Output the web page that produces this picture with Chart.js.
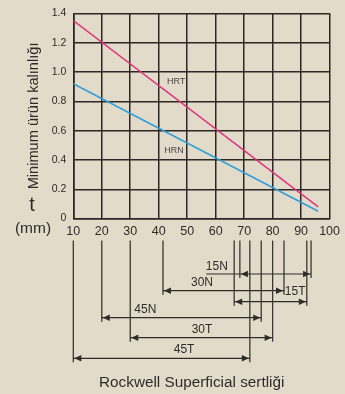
<!DOCTYPE html>
<html>
<head>
<meta charset="utf-8">
<script src="https://cdn.jsdelivr.net/npm/chart.js@4.4.1/dist/chart.umd.min.js"></script>
<style>
  html, body { margin: 0; padding: 0; background: #e3dbca; }
  canvas { display: block; }
</style>
</head>
<body>
<canvas id="chart" width="345" height="394"></canvas>
<script>
// Minimum sample thickness versus Rockwell superficial hardness
const hardness = [10, 96];
const hrtThickness = [1.35, 0.08];
const hrnThickness = [0.92, 0.05];

const xTicks = [10, 20, 30, 40, 50, 60, 70, 80, 90, 100];
const yTicks = [0, 0.2, 0.4, 0.6, 0.8, 1.0, 1.2, 1.4];

// Usable hardness span of each superficial scale
const scaleNames = ['15N', '30N', '15T', '45N', '30T', '45T'];
const rangeFrom = [68.5, 41.5, 66.5, 20, 30, 10];
const rangeTo = [93.5, 84, 92, 76, 80, 72];

const SANS = "'Liberation Sans', Arial, sans-serif";
const INK = '#2e2c2a';
const GRID = '#2b2724';

const toPoints = (xs, ys) => xs.map((x, i) => ({ x, y: ys[i] }));

// Range bars drawn under the x axis, plus the axis captions and curve names
const annotations = {
  id: 'annotations',
  afterDraw(chart, args, opts) {
    const { ctx, chartArea } = chart;
    const x = chart.scales.x, y = chart.scales.y;
    const top = chartArea.bottom + 22;
    ctx.save();

    scaleNames.forEach((name, i) => {
      const row = opts.rows[i];
      const x1 = x.getPixelForValue(rangeFrom[i]);
      const x2 = x.getPixelForValue(rangeTo[i]);

      ctx.strokeStyle = '#3a3632';
      ctx.lineWidth = 1.3;
      [x1, x2].forEach(px => {
        ctx.beginPath();
        ctx.moveTo(px, top);
        ctx.lineTo(px, row.y + 4);
        ctx.stroke();
      });

      ctx.strokeStyle = INK;
      ctx.fillStyle = INK;
      ctx.lineWidth = 1.2;
      const startX = row.lead ? x.getPixelForValue(row.lead) : x1;
      ctx.beginPath();
      ctx.moveTo(startX, row.y);
      ctx.lineTo(x2, row.y);
      ctx.stroke();

      const head = 7, half = 3.2;
      ctx.beginPath();
      ctx.moveTo(x1 + 1, row.y);
      ctx.lineTo(x1 + 1 + head, row.y - half);
      ctx.lineTo(x1 + 1 + head, row.y + half);
      ctx.closePath();
      ctx.fill();
      ctx.beginPath();
      ctx.moveTo(x2 - 1, row.y);
      ctx.lineTo(x2 - 1 - head, row.y - half);
      ctx.lineTo(x2 - 1 - head, row.y + half);
      ctx.closePath();
      ctx.fill();

      ctx.font = '12px ' + SANS;
      ctx.textAlign = 'center';
      ctx.textBaseline = 'middle';
      ctx.fillText(name, x.getPixelForValue(row.label), row.labelY);
    });

    // curve names
    ctx.font = '9px ' + SANS;
    ctx.textAlign = 'center';
    ctx.textBaseline = 'middle';
    ctx.fillStyle = '#464442';
    opts.curveNames.forEach(c => {
      ctx.fillText(c.text, x.getPixelForValue(c.x), y.getPixelForValue(c.y));
    });

    // unit of the thickness axis
    ctx.fillStyle = INK;
    ctx.font = '20px ' + SANS;
    ctx.fillText('t', 32, 205);
    ctx.font = '15.5px ' + SANS;
    ctx.fillText('(mm)', 33, 229);

    // hardness axis caption
    ctx.font = '15.3px ' + SANS;
    ctx.fillText('Rockwell Superficial sertliği', 191.7, 383);

    ctx.restore();
  }
};

new Chart(document.getElementById('chart'), {
  type: 'line',
  data: {
    datasets: [
      {
        label: 'HRT',
        data: toPoints(hardness, hrtThickness),
        borderColor: '#e0337f',
        borderWidth: 1.5,
        pointRadius: 0,
        tension: 0
      },
      {
        label: 'HRN',
        data: toPoints(hardness, hrnThickness),
        borderColor: '#2f9fdb',
        borderWidth: 1.5,
        pointRadius: 0,
        tension: 0
      }
    ]
  },
  options: {
    responsive: false,
    animation: false,
    events: [],
    layout: { padding: { top: 10, right: 13.3, left: 0, bottom: 0 } },
    plugins: {
      legend: { display: false },
      tooltip: { enabled: false },
      annotations: {
        rows: [
          { y: 274, label: 60.4, labelY: 266.5, lead: 56.7 },
          { y: 290.7, label: 55.2, labelY: 282.7 },
          { y: 301.7, label: 87.9, labelY: 291.7 },
          { y: 317.7, label: 35.3, labelY: 309.5 },
          { y: 337.7, label: 55.2, labelY: 330 },
          { y: 358.3, label: 48.9, labelY: 350 }
        ],
        curveNames: [
          { text: 'HRT', x: 46.1, y: 0.937 },
          { text: 'HRN', x: 45.4, y: 0.464 }
        ]
      }
    },
    scales: {
      x: {
        type: 'linear',
        min: 10,
        max: 100,
        afterBuildTicks: s => { s.ticks = xTicks.map(v => ({ value: v })); },
        afterFit: s => { s.height = 175.4; },
        ticks: {
          padding: 5,
          color: INK,
          font: { family: SANS, size: 12.5 },
          maxRotation: 0
        },
        grid: { color: GRID, lineWidth: 1.5, drawTicks: false },
        border: { color: GRID, width: 1.6 }
      },
      y: {
        type: 'linear',
        min: 0,
        max: 1.4,
        afterBuildTicks: s => { s.ticks = yTicks.map(v => ({ value: v })); },
        afterFit: s => { s.width = 73.3; },
        ticks: {
          padding: 7,
          color: INK,
          font: { family: SANS, size: 10.5 },
          callback: v => (v === 0 ? '0' : v.toFixed(1))
        },
        grid: { color: GRID, lineWidth: 1.5, drawTicks: false },
        border: { color: GRID, width: 1.6 },
        title: {
          display: true,
          text: 'Minimum ürün kalınlığı',
          color: INK,
          font: { family: SANS, size: 14.6 },
          padding: { top: 25.5 }
        }
      }
    }
  },
  plugins: [annotations]
});
</script>
</body>
</html>
